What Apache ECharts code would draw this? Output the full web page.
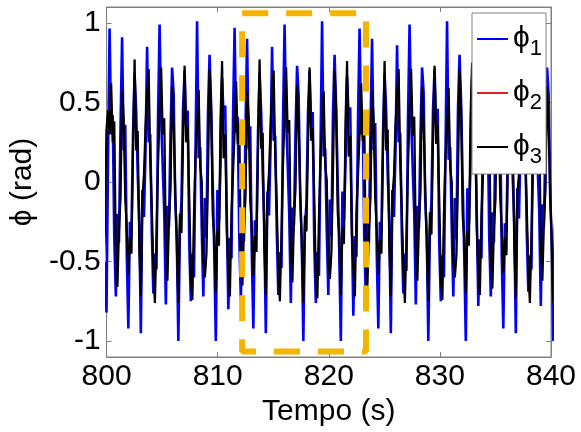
<!DOCTYPE html>
<html><head><meta charset="utf-8">
<script src="https://cdn.jsdelivr.net/npm/echarts@6/dist/echarts.min.js"></script>
<style>html,body{margin:0;padding:0;background:#fff}#c{width:581px;height:432px}</style>
</head><body><div id="c"></div>
<script>
// ---- data ----
const xTicks = [800, 810, 820, 830, 840];
const yTicks = [-1, -0.5, 0, 0.5, 1];
const sampleStart = 799.7075;   // time of first sample (s)
const sampleStep = 0.140625;    // sampling step (s)

const phi1 = [
 -0.74, -0.50, -0.82, 0.15,
 0.965, 0.30, 0.42, -0.35, -0.72, -0.20, -0.38, 0.35,
 0.91, 0.20, 0.36, -0.45, -0.92, -0.25, -0.30, 0.30,
 0.68, 0.45, 0.05, -0.25, -0.95, -0.05, -0.22, 0.20,
 0.85, 0.25, 0.30, -0.30, -0.70, -0.45, -0.55, 0.40,
 0.99, 0.40, 0.10, -0.20, -0.77, -0.15, -0.28, 0.30,
 0.72, 0.55, -0.10, -0.35, -1.00, -0.30, -0.12, 0.45,
 0.70, 0.35, 0.45, -0.40, -0.75, -0.45, -0.60, 0.20,
 1.01, 0.15, 0.22, -0.30, -0.72, -0.10, -0.35, 0.45,
 0.80, 0.48, 0.00, -0.45, -1.00, -0.05, -0.25, 0.10,
 0.65, 0.40, 0.48, -0.20, -0.80, -0.35, -0.48, 0.40,
 0.97, 0.31, 0.41, -0.34, -0.74, -0.21, -0.37, 0.34,
 0.90, 0.21, 0.35, -0.44, -0.92, -0.24, -0.31, 0.31,
 0.69, 0.44, 0.06, -0.26, -0.95, -0.06, -0.21, 0.21,
 0.85, 0.26, 0.29, -0.31, -0.71, -0.44, -0.54, 0.39,
 0.99, 0.39, 0.11, -0.21, -0.76, -0.16, -0.27, 0.31,
 0.73, 0.54, -0.09, -0.36, -1.00, -0.29, -0.13, 0.44,
 0.70, 0.36, 0.44, -0.39, -0.76, -0.44, -0.59, 0.21,
 1.01, 0.16, 0.21, -0.31, -0.71, -0.11, -0.34, 0.44,
 0.80, 0.47, 0.01, -0.44, -1.00, -0.06, -0.24, 0.11,
 0.66, 0.41, 0.47, -0.21, -0.84, -0.34, -0.47, 0.39,
 0.965, 0.30, 0.42, -0.35, -0.73, -0.20, -0.38, 0.35,
 0.90, 0.20, 0.37, -0.45, -0.92, -0.25, -0.30, 0.30,
 0.68, 0.45, 0.05, -0.24, -0.95, -0.05, -0.22, 0.20,
 0.86, 0.25, 0.31, -0.30, -0.70, -0.45, -0.56, 0.40,
 0.99, 0.40, 0.09, -0.20, -0.77, -0.15, -0.29, 0.30,
 0.72, 0.56, -0.10, -0.34, -1.00, -0.31, -0.12, 0.45,
 0.71, 0.35, 0.46, -0.40, -0.75, -0.46, -0.60, 0.19,
 1.01, 0.14, 0.22, -0.29, -0.72, -0.10, -0.36, 0.46,
 0.80, 0.49, 0.00, -0.46, -1.00, -0.04, -0.26, 0.10,
 0.65, 0.40, 0.49, -0.19, -0.78, -0.36, -0.48, 0.41,
 0.96, 0.31, 0.42, -0.35, -0.72, -0.19, -0.38, 0.35,
 0.91, 0.19, 0.36, -0.46, -0.92, -0.26, -0.30, 0.29,
 0.67, 0.46, 0.04, -0.25, -0.95, -0.04, -0.23, 0.21,
 0.84, 0.24, 0.30, -0.31, -0.69, -0.46, -0.55, 0.41,
 0.98, 0.41, 0.10, -0.19, -0.78, -0.14, -0.28, 0.30,
 0.72, 0.55, -0.10, -0.35, -1.00, -0.30, -0.12, 0.45
];

const phi3 = [
 -0.62, -0.30, 0.33, 0.45,
 0.30, 0.62, 0.25, 0.38, -0.45, -0.66, -0.30, -0.10,
 0.58, 0.40, -0.10, -0.30, -0.58, -0.35, -0.45, 0.20,
 0.77, 0.20, 0.32, -0.40, -0.72, -0.10, 0.05, 0.35,
 0.55, 0.71, 0.15, -0.15, -0.55, -0.76, -0.35, 0.10,
 0.45, 0.72, 0.30, 0.40, -0.40, -0.62, -0.25, -0.05,
 0.60, 0.35, -0.05, -0.40, -0.76, -0.20, -0.32, 0.25,
 0.73, 0.25, 0.35, -0.10, -0.60, -0.74, -0.20, 0.15,
 0.35, 0.58, 0.10, 0.00, -0.50, -0.60, -0.45, 0.05,
 0.71, 0.45, -0.20, -0.35, -0.70, -0.30, -0.40, 0.40,
 0.76, 0.15, 0.30, -0.30, -0.55, -0.72, -0.20, 0.05,
 0.31, 0.63, 0.24, 0.37, -0.46, -0.65, -0.31, -0.09,
 0.57, 0.41, -0.11, -0.29, -0.59, -0.34, -0.44, 0.21,
 0.77, 0.21, 0.31, -0.41, -0.71, -0.11, 0.06, 0.34,
 0.56, 0.70, 0.16, -0.14, -0.56, -0.75, -0.34, 0.11,
 0.44, 0.72, 0.31, 0.39, -0.41, -0.63, -0.24, -0.04,
 0.61, 0.34, -0.06, -0.41, -0.76, -0.21, -0.31, 0.24,
 0.72, 0.26, 0.34, -0.09, -0.61, -0.73, -0.21, 0.14,
 0.36, 0.57, 0.11, 0.01, -0.49, -0.61, -0.44, 0.06,
 0.70, 0.46, -0.19, -0.34, -0.71, -0.29, -0.39, 0.39,
 0.76, 0.16, 0.29, -0.31, -0.54, -0.72, -0.19, 0.04,
 0.30, 0.62, 0.26, 0.38, -0.45, -0.66, -0.30, -0.10,
 0.58, 0.39, -0.10, -0.31, -0.58, -0.36, -0.45, 0.19,
 0.76, 0.20, 0.33, -0.39, -0.72, -0.10, 0.04, 0.36,
 0.55, 0.71, 0.14, -0.16, -0.55, -0.76, -0.36, 0.09,
 0.46, 0.71, 0.29, 0.41, -0.40, -0.62, -0.26, -0.06,
 0.60, 0.36, -0.04, -0.39, -0.75, -0.19, -0.33, 0.26,
 0.73, 0.24, 0.36, -0.11, -0.60, -0.74, -0.19, 0.16,
 0.34, 0.59, 0.09, 0.00, -0.51, -0.60, -0.46, 0.04,
 0.71, 0.44, -0.21, -0.36, -0.70, -0.31, -0.40, 0.41,
 0.75, 0.14, 0.31, -0.29, -0.56, -0.71, -0.21, 0.06,
 0.31, 0.61, 0.25, 0.37, -0.44, -0.67, -0.29, -0.11,
 0.59, 0.40, -0.09, -0.30, -0.57, -0.35, -0.46, 0.20,
 0.77, 0.19, 0.32, -0.40, -0.73, -0.09, 0.05, 0.35,
 0.54, 0.72, 0.15, -0.15, -0.54, -0.76, -0.35, 0.10,
 0.45, 0.72, 0.30, 0.40, -0.40, -0.62, -0.25, -0.05,
 0.60, 0.35, -0.05, -0.40, -0.76, -0.20, -0.32, 0.25
];
// phi2 coincides with phi3 (its red trace is entirely hidden under the black one)
const phi2 = phi3;

const boxTime = [812.2, 823.35];
const boxPhi = [-1.065, 1.06];

// ---- chart ----
const FONT = "'Liberation Sans', Arial, 'DejaVu Sans', sans-serif";
const toPoints = arr => arr.map((v, i) => [sampleStart + i * sampleStep, v]);
const boxPoints = [
  [boxTime[0], boxPhi[1]], [boxTime[1], boxPhi[1]],
  [boxTime[1], boxPhi[0]], [boxTime[0], boxPhi[0]],
  [boxTime[0], boxPhi[1]]
];
const axisGray = '#808080';
const chart = echarts.init(document.getElementById('c'), null, {renderer: 'canvas'});
chart.setOption({
  animation: false,
  backgroundColor: '#fff',
  grid: {left: 106, right: 30, top: 7, bottom: 75, show: true, borderColor: axisGray, borderWidth: 1, backgroundColor: '#fff'},
  legend: {
    data: ['phi1', 'phi2', 'phi3'],
    orient: 'vertical', left: 472, top: 13,
    backgroundColor: '#fff', borderColor: axisGray, borderWidth: 1,
    padding: [5, 4, 6, 5], itemGap: 12, itemWidth: 31, itemHeight: 2, icon: 'rect',
    formatter: n => '{a|ϕ}{b|' + n.slice(3) + '}',
    textStyle: {
      rich: {
        a: {fontSize: 30, fontFamily: FONT, color: '#000', lineHeight: 44},
        b: {fontSize: 22, fontFamily: FONT, color: '#000', padding: [20, 0, 0, 0], lineHeight: 44}
      }
    }
  },
  xAxis: [{
    type: 'value', min: xTicks[0], max: xTicks[xTicks.length - 1], interval: 10,
    axisLine: {show: true, onZero: false, lineStyle: {color: axisGray}},
    axisTick: {show: true, inside: true, length: 5, lineStyle: {color: axisGray}},
    axisLabel: {fontSize: 30, fontFamily: FONT, color: '#000', margin: 5},
    splitLine: {show: false},
    name: 'Tempo (s)', nameLocation: 'middle', nameGap: 38,
    nameTextStyle: {fontSize: 30, fontFamily: FONT, color: '#000'}
  }, {
    type: 'value', position: 'top', min: xTicks[0], max: xTicks[xTicks.length - 1], interval: 10,
    axisLine: {show: true, onZero: false, lineStyle: {color: axisGray}},
    axisTick: {show: true, inside: true, length: 5, lineStyle: {color: axisGray}},
    axisLabel: {show: false}, splitLine: {show: false}
  }],
  yAxis: [{
    type: 'value', min: -1.1, max: 1.1,
    axisLine: {show: true, onZero: false, lineStyle: {color: axisGray}},
    axisTick: {show: true, inside: true, length: 5, lineStyle: {color: axisGray}, customValues: yTicks},
    axisLabel: {fontSize: 30, fontFamily: FONT, color: '#000', margin: 6, customValues: yTicks},
    splitLine: {show: false},
    name: 'ϕ (rad)', nameLocation: 'middle', nameGap: 52, nameRotate: 90,
    nameTextStyle: {fontSize: 30, fontFamily: FONT, color: '#000'}
  }, {
    type: 'value', position: 'right', min: -1.1, max: 1.1,
    axisLine: {show: true, onZero: false, lineStyle: {color: axisGray}},
    axisTick: {show: true, inside: true, length: 5, lineStyle: {color: axisGray}, customValues: yTicks},
    axisLabel: {show: false}, splitLine: {show: false}
  }],
  series: [
    {name: 'phi1', type: 'line', data: toPoints(phi1), symbol: 'none', clip: true,
     lineStyle: {color: '#0000ff', width: 2.6}, itemStyle: {color: '#0000ff'}},
    {name: 'phi2', type: 'line', data: toPoints(phi2), symbol: 'none', clip: true,
     lineStyle: {color: '#e02020', width: 1.2}, itemStyle: {color: '#e02020'}},
    {name: 'phi3', type: 'line', data: toPoints(phi3), symbol: 'none', clip: true,
     lineStyle: {color: '#000000', width: 2.2}, itemStyle: {color: '#000000'}},
    {name: 'box', type: 'line', data: boxPoints, symbol: 'none', clip: false, silent: true, z: 5,
     lineStyle: {color: '#f5b400', width: 6, type: [26, 18]}}
  ]
});
</script></body></html>
